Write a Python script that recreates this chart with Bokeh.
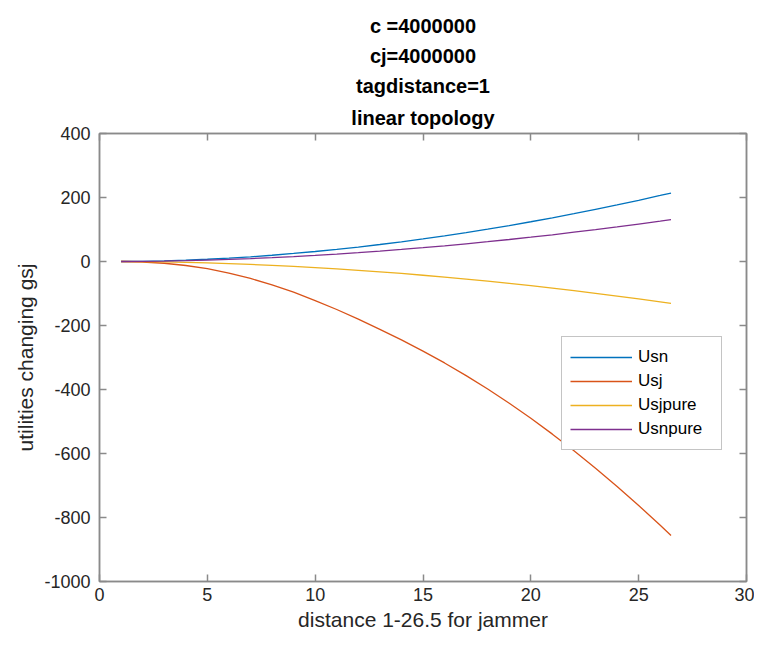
from bokeh.plotting import figure
from bokeh.models import Range1d, FixedTicker, LinearAxis, Title, PrintfTickFormatter, CustomJSTickFormatter
from bokeh.embed import file_html
from bokeh.resources import INLINE

# ---- data ----
distance = [1, 2, 3, 4, 5, 6, 7, 8, 9, 10, 11, 12, 13, 14, 15, 16, 17, 18, 19, 20,
            21, 22, 23, 24, 25, 26, 26.5]
usn      = [0, 0.5, 1.9, 4.1, 7, 10.5, 14.7, 19.6, 25.1, 31.2, 37.9, 45.2, 53.1, 61.5,
            70.6, 80.2, 90.4, 101, 112.4, 124.2, 136.5, 149.5, 163, 176.8, 191.3, 206.3, 214]
usj      = [0, -1.5, -5.5, -12.5, -22.5, -36, -53, -73, -96, -122, -150, -180, -212, -245,
            -280, -317, -356.5, -398.5, -443, -490, -539.5, -591.5, -646, -703, -762.5, -824.5, -856.5]
usjpure  = [0, -0.3, -1.2, -2.5, -4.3, -6.4, -9, -12, -15.3, -19, -23, -27.5, -32.3, -37.4,
            -43, -49, -55, -61.5, -68.5, -75.5, -83, -91, -99.5, -108, -117, -126, -131]
usnpure  = [0, 0.3, 1.2, 2.5, 4.3, 6.4, 9, 12, 15.4, 19.1, 23.2, 27.7, 32.5, 37.6,
            43.2, 49.1, 55.3, 61.8, 68.8, 76, 83.5, 91.5, 99.8, 108.2, 117.1, 126.3, 131]

x_ticks = [0, 5, 10, 15, 20, 25, 30]
y_ticks = [-1000, -800, -600, -400, -200, 0, 200, 400]
title_lines = ["c =4000000", "cj=4000000", "tagdistance=1", "linear topology"]
series_names = ["Usn", "Usj", "Usjpure", "Usnpure"]
colors = ["#0072BD", "#D95319", "#EDB120", "#7E2F8E"]

FONT = "Liberation Sans"
AX = "#8a8a8a"
TXT = "#262626"

p = figure(width=754, height=639, x_range=Range1d(0, 30), y_range=Range1d(-1000, 400),
           output_backend="svg", toolbar_location=None, title=None,
           min_border_left=99, min_border_right=8, min_border_top=133, min_border_bottom=58)
p.xgrid.visible = False
p.ygrid.visible = False
p.outline_line_color = AX
p.outline_line_width = 1.5
p.background_fill_color = "white"

def style_axis(ax, ticks, labels=True):
    ax.ticker = FixedTicker(ticks=ticks)
    ax.axis_line_color = AX
    ax.axis_line_width = 1.5
    ax.major_tick_line_color = AX
    ax.major_tick_line_width = 1.5
    ax.major_tick_in = 7
    ax.major_tick_out = 0
    ax.minor_tick_line_color = None
    ax.major_label_text_font = FONT
    ax.major_label_text_color = TXT
    ax.major_label_text_font_size = "18px"
    if labels:
        ax.formatter = PrintfTickFormatter(format="%d")
    else:
        ax.formatter = CustomJSTickFormatter(code="return ''")
        ax.major_label_standoff = 0

style_axis(p.xaxis[0], x_ticks)
style_axis(p.yaxis[0], y_ticks)
p.xaxis[0].major_label_standoff = 6
p.yaxis[0].major_label_standoff = 9
for ax, lab in ((p.xaxis[0], "distance 1-26.5 for jammer"), (p.yaxis[0], "utilities changing gsj")):
    ax.axis_label = lab
    ax.axis_label_text_font = FONT
    ax.axis_label_text_font_size = "21px"
    ax.axis_label_text_font_style = "normal"
    ax.axis_label_text_color = TXT
p.xaxis[0].axis_label_standoff = 4
p.yaxis[0].axis_label_standoff = 4

top_ax = LinearAxis()
style_axis(top_ax, x_ticks, labels=False)
p.add_layout(top_ax, "above")
right_ax = LinearAxis()
style_axis(right_ax, y_ticks, labels=False)
p.add_layout(right_ax, "right")

for i, t in enumerate(reversed(title_lines)):
    p.add_layout(Title(text=t, align="center", text_font=FONT, text_font_size="20px",
                       text_font_style="bold", text_color="black",
                       standoff=10 if i == 0 else 6), "above")

for ys, name, c in zip([usn, usj, usjpure, usnpure], series_names, colors):
    p.line(distance, ys, line_color=c, line_width=1.3, legend_label=name)

lg = p.legend[0]
lg.location = (462, 131)
lg.border_line_color = AX
lg.border_line_width = 1.5
lg.background_fill_color = "white"
lg.background_fill_alpha = 1
lg.label_text_font = FONT
lg.label_text_font_size = "17px"
lg.label_text_color = "black"
lg.glyph_width = 62
lg.glyph_height = 24
lg.label_height = 24
lg.label_width = 75
lg.label_standoff = 6
lg.spacing = 0
lg.padding = 8
lg.margin = 0

open("out.html", "w").write(file_html(p, INLINE))
